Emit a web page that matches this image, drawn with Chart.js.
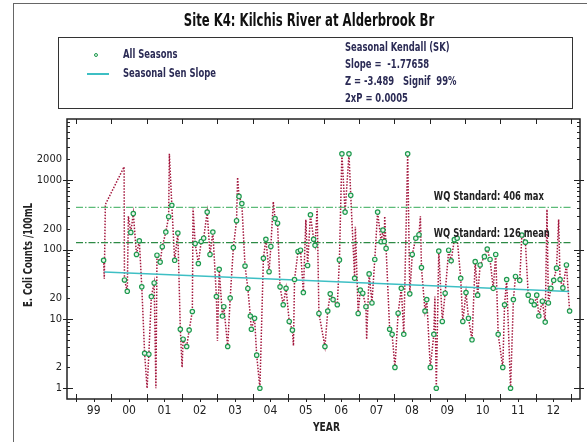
<!DOCTYPE html>
<html>
<head>
<meta charset="utf-8">
<script src="https://cdn.jsdelivr.net/npm/chart.js@4.4.1/dist/chart.umd.min.js"></script>
<style>
  html, body { margin: 0; padding: 0; background: #fff; }
  #wrap { position: relative; width: 587px; height: 442px; overflow: hidden;
          font-family: "Liberation Sans Narrow", "DejaVu Sans Condensed", sans-serif; }
  #chart { position: absolute; left: 0; top: 0; }
  .frame { position: absolute; left: 13px; top: 3px; width: 600px; height: 500px;
           border-left: 1.5px solid #666; border-top: 1.5px solid #666; }
  .title { position: absolute; left: 309px; top: 9px; white-space: nowrap;
           font-weight: bold; font-size: 18px; color: #111;
           transform: translateX(-50%) scaleX(0.72); transform-origin: 50% 50%; }
  .legendbox { position: absolute; left: 58px; top: 37px; width: 513px; height: 70px;
               border: 1px solid #333; color: #2b2b55; font-weight: bold; font-size: 12px; }
  .legendbox div { position: absolute; white-space: nowrap; line-height: 14px; }
  .legendbox .t { transform: scaleX(0.78); transform-origin: 0 50%; }
  .dot { width: 2px; height: 2px; border: 1.2px solid #1e9a4e; border-radius: 50%; background: #e8f5ec; }
  .sen { width: 22px; height: 1.5px; background: #3dbfc4; }
</style>
</head>
<body>
<div id="wrap">
  <canvas id="chart" width="587" height="442"></canvas>
  <div class="frame"></div>
  <div class="title">Site K4: Kilchis River at Alderbrook Br</div>
  <div class="legendbox">
    <div class="dot" style="left:35px; top:15px;"></div>
    <div class="t" style="left:64px; top:9px;">All Seasons</div>
    <div class="sen" style="left:28px; top:35px;"></div>
    <div class="t" style="left:64px; top:28px;">Seasonal Sen Slope</div>
    <div class="t" style="left:286px; top:2px;">Seasonal Kendall (SK)</div>
    <div class="t" style="left:286px; top:19px;">Slope =&nbsp; -1.77658</div>
    <div class="t" style="left:286px; top:36px;">Z = -3.489&nbsp;&nbsp; Signif&nbsp; 99%</div>
    <div class="t" style="left:286px; top:53px;">2xP = 0.0005</div>
  </div>
</div>
<script>
const FONT = '"Liberation Sans Narrow", "DejaVu Sans Condensed", sans-serif';

// seasonal samples (decimal year, E. coli counts /100mL)
const seasonYears = [
  1999.78, 2000.37, 2000.45, 2000.55, 2000.62, 2000.71, 2000.79, 2000.86, 2000.94, 2001.06,
  2001.13, 2001.21, 2001.29, 2001.38, 2001.44, 2001.54, 2001.62, 2001.71, 2001.79, 2001.88,
  2001.95, 2002.03, 2002.13, 2002.20, 2002.29, 2002.37, 2002.46, 2002.54, 2002.61, 2002.71,
  2002.79, 2002.87, 2002.97, 2003.05, 2003.14, 2003.18, 2003.29, 2003.36, 2003.45, 2003.54,
  2003.61, 2003.69, 2003.78, 2003.86, 2003.93, 2003.96, 2004.05, 2004.11, 2004.20, 2004.30,
  2004.37, 2004.46, 2004.51, 2004.63, 2004.70, 2004.77, 2004.86, 2004.94, 2005.03, 2005.12,
  2005.18, 2005.28, 2005.35, 2005.43, 2005.55, 2005.63, 2005.72, 2005.76, 2005.87, 2006.04,
  2006.12, 2006.19, 2006.27, 2006.39, 2006.45, 2006.52, 2006.61, 2006.72, 2006.77, 2006.88,
  2006.98, 2007.04, 2007.11, 2007.20, 2007.29, 2007.37, 2007.45, 2007.53, 2007.63, 2007.68,
  2007.72, 2007.77, 2007.87, 2007.94, 2008.02, 2008.11, 2008.20, 2008.27, 2008.38, 2008.44,
  2008.51, 2008.61, 2008.70, 2008.77, 2008.87, 2008.92, 2009.02, 2009.12, 2009.19, 2009.26,
  2009.36, 2009.44, 2009.54, 2009.61, 2009.70, 2009.78, 2009.88, 2009.94, 2010.03, 2010.10,
  2010.20, 2010.29, 2010.36, 2010.43, 2010.55, 2010.63, 2010.71, 2010.80, 2010.87, 2010.94,
  2011.07, 2011.12, 2011.18, 2011.29, 2011.37, 2011.43, 2011.55, 2011.61, 2011.71, 2011.79,
  2011.88, 2011.96, 2012.03, 2012.09, 2012.19, 2012.27, 2012.36, 2012.43, 2012.51, 2012.59,
  2012.69, 2012.77, 2012.87, 2012.96
];
const seasonCounts = [
  70, 36.5, 25, 177, 331, 85, 134, 29, 3.2, 3.1,
  21, 33, 83, 66, 110, 179, 298, 436, 70, 173,
  7.1, 5.1, 4.0, 6.9, 12.8, 122, 63, 131, 146, 347,
  85, 179, 21, 52, 11, 15, 4.0, 20, 107, 261,
  585, 460, 58, 27.5, 11, 7.1, 10.2, 3.0, 1.0, 75,
  141, 48, 111, 280, 240, 29, 16, 27.7, 9.2, 6.9,
  37, 94, 98, 24, 59, 318, 141, 115, 12, 4.0,
  13, 23, 19, 16, 71, 2400, 347, 2400, 606, 38.6,
  12, 26, 23.5, 15, 44.6, 17, 72, 347, 130, 191,
  131, 104, 7.1, 6.0, 2.0, 12.1, 27.6, 6.0, 2400, 23,
  85, 146, 164, 55, 13, 19, 2.0, 6.0, 1.0, 95,
  9.2, 23.5, 98, 69, 139, 146, 38.6, 9.2, 24, 10.2,
  5.0, 67, 22, 60, 79, 102, 72, 27.6, 85, 6.0,
  2.0, 16, 37, 1.0, 19, 41, 36, 162, 128, 22,
  18, 16, 22, 11, 18, 9, 17, 27.6, 36, 54,
  37, 28, 60, 13
];

// extra samples on the dotted trace that carry no marker
const spikeYears  = [1999.80, 1999.83, 2000.36, 2000.48, 2001.01, 2001.26, 2001.64, 2002.00, 2002.31, 2003.00,
                     2003.57, 2004.58, 2005.15, 2005.50, 2005.82, 2006.90, 2007.22, 2007.73, 2008.74, 2009.15,
                     2012.32, 2012.65];
const spikeCounts = [38, 447, 1560, 302, 1.0, 1.0, 2400, 2.0, 392, 4.8,
                     1100, 490, 4.1, 270, 388, 214, 5.1, 302, 302, 21,
                     380, 272];

const senYears = [1999.80, 2012.95];
const senCounts = [47.6, 24.8];

const wqYears = [1999, 2013];
const wqMax = 406;
const wqMean = 126;

const yearLabels = ['99', '00', '01', '02', '03', '04', '05', '06', '07', '08', '09', '10', '11', '12'];
const yTickValues = [1, 2, 10, 20, 100, 200, 1000, 2000];

const seasonPts = seasonYears.map((x, i) => ({ x, y: seasonCounts[i] }));
const tracePts = seasonPts
  .concat(spikeYears.map((x, i) => ({ x, y: spikeCounts[i] })))
  .sort((a, b) => a.x - b.x);

const frameAxes = {
  id: 'frameAxes',
  afterDatasetsDraw(chart) {
    const { ctx, chartArea: a, scales: { x, y } } = chart;
    ctx.save();
    ctx.strokeStyle = '#222';
    ctx.lineWidth = 1;
    ctx.beginPath();
    for (let yr = 1999; yr <= 2013; yr++) {
      const px = Math.round(x.getPixelForValue(yr)) + 0.5;
      ctx.moveTo(px, a.bottom + 3); ctx.lineTo(px, a.bottom - 5);
      ctx.moveTo(px, a.top); ctx.lineTo(px, a.top + 5);
      if (yr < 2013) {
        const hx = Math.round(x.getPixelForValue(yr + 0.5)) + 0.5;
        ctx.moveTo(hx, a.bottom); ctx.lineTo(hx, a.bottom + 3);
      }
    }
    for (let d = 1; d <= 1000; d *= 10) {
      for (let m = 1; m < 10; m++) {
        const v = d * m;
        if (v > y.max) break;
        const py = Math.round(y.getPixelForValue(v)) + 0.5;
        if (m === 1) {
          ctx.moveTo(a.left - 4, py); ctx.lineTo(a.left + 6, py);
          ctx.moveTo(a.right - 6, py); ctx.lineTo(a.right + 4, py);
        } else {
          ctx.moveTo(a.left, py); ctx.lineTo(a.left + 3, py);
          ctx.moveTo(a.right - 3, py); ctx.lineTo(a.right, py);
        }
      }
    }
    ctx.stroke();
    ctx.lineWidth = 1.5;
    ctx.strokeRect(a.left, a.top, a.right - a.left, a.bottom - a.top);

    // standard labels and axis titles, condensed to the reference widths
    ctx.fillStyle = '#222';
    ctx.font = 'bold 13px ' + FONT;
    ctx.textAlign = 'left';
    ctx.textBaseline = 'alphabetic';
    const lx = x.getPixelForValue(2009.12);
    ctx.fillText('WQ Standard: ' + wqMax + ' max', lx, y.getPixelForValue(wqMax) - 7, 110);
    ctx.fillText('WQ Standard: ' + wqMean + ' mean', lx, y.getPixelForValue(wqMean) - 6, 116);

    ctx.textAlign = 'center';
    ctx.textBaseline = 'middle';
    ctx.fillText('YEAR', (a.left + a.right) / 2 + 3, 428, 27);
    ctx.font = 'bold 12px ' + FONT;
    ctx.translate(29, 255);
    ctx.rotate(-Math.PI / 2);
    ctx.fillText('E. Coli Counts /100mL', 0, 0, 104);
    ctx.restore();
  }
};

new Chart(document.getElementById('chart').getContext('2d'), {
  type: 'scatter',
  data: {
    datasets: [
      {
        label: 'All Seasons',
        data: seasonPts,
        pointRadius: 2.2,
        pointBorderColor: '#1e9a4e',
        pointBackgroundColor: '#e8f5ec',
        pointBorderWidth: 1.2,
        order: 0
      },
      {
        label: 'Seasonal Sen Slope',
        data: senYears.map((x, i) => ({ x, y: senCounts[i] })),
        showLine: true,
        borderColor: '#3dbfc4',
        borderWidth: 1.5,
        pointRadius: 0,
        order: 1
      },
      {
        label: 'WQ max',
        data: wqYears.map(x => ({ x, y: wqMax })),
        showLine: true,
        borderColor: '#5cbb78',
        borderWidth: 1.3,
        borderDash: [7, 2, 1.5, 2],
        pointRadius: 0,
        order: 2
      },
      {
        label: 'WQ mean',
        data: wqYears.map(x => ({ x, y: wqMean })),
        showLine: true,
        borderColor: '#2d8a45',
        borderWidth: 1.3,
        borderDash: [7, 2, 1.5, 2],
        pointRadius: 0,
        order: 2
      },
      {
        label: 'trace',
        data: tracePts,
        showLine: true,
        borderColor: '#a3173d',
        borderWidth: 1.5,
        borderDash: [1.5, 1.5],
        pointRadius: 0,
        order: 3
      }
    ]
  },
  options: {
    responsive: false,
    animation: false,
    layout: { padding: { left: 14, top: 119, right: 7, bottom: 0 } },
    plugins: { legend: { display: false }, tooltip: { enabled: false } },
    scales: {
      x: {
        type: 'linear',
        min: 1998.745,
        max: 2013.254,
        afterBuildTicks: s => { s.ticks = yearLabels.map((l, i) => ({ value: 1999.5 + i })); },
        afterFit: s => { s.height = 43; },
        grid: { display: false, drawTicks: false },
        border: { display: false },
        ticks: {
          autoSkip: false,
          maxRotation: 0,
          padding: 5,
          color: '#222',
          font: { family: FONT, size: 12 },
          callback: (v, i) => yearLabels[i]
        }
      },
      y: {
        type: 'logarithmic',
        min: 0.718,
        max: 7640,
        afterBuildTicks: s => { s.ticks = yTickValues.map(v => ({ value: v })); },
        afterFit: s => { s.width = 53; },
        grid: { display: false, drawTicks: false },
        border: { display: false },
        ticks: {
          padding: 5,
          color: '#222',
          font: { family: FONT, size: 11 },
          callback: v => String(v)
        }
      }
    }
  },
  plugins: [frameAxes]
});
</script>
</body>
</html>
